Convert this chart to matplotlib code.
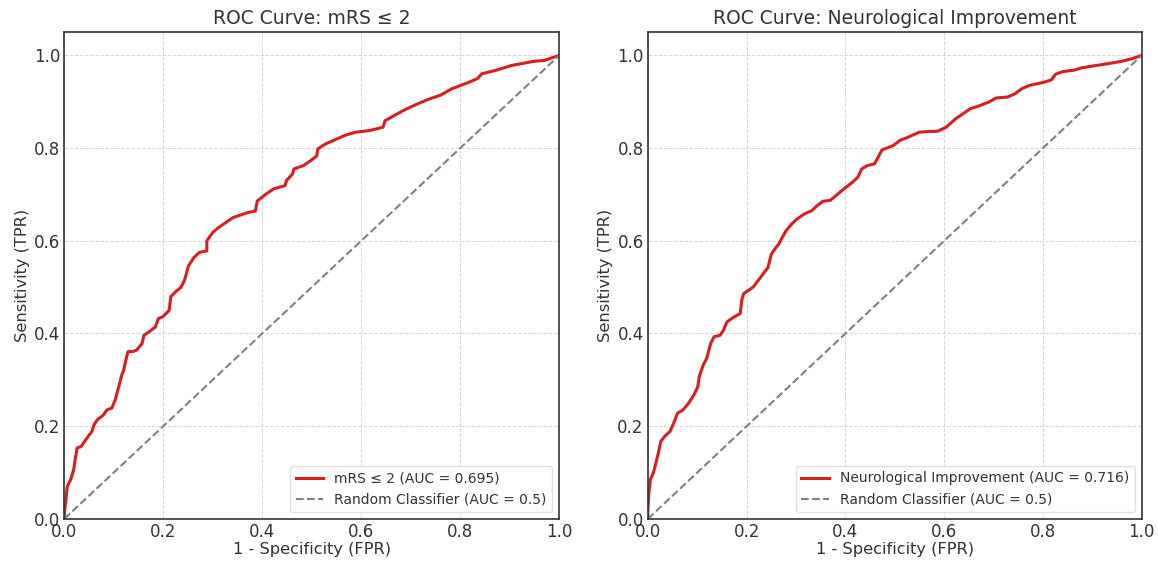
import matplotlib.pyplot as plt

# ROC points (FPR, TPR)
mrs_fpr = [0.0, 0.001, 0.004, 0.006, 0.013, 0.019, 0.022, 0.026, 0.034, 0.041, 0.049, 0.056,
           0.060, 0.067, 0.079, 0.086, 0.096, 0.103, 0.110, 0.116, 0.120, 0.126, 0.129, 0.139,
           0.146, 0.157, 0.161, 0.172, 0.184, 0.190, 0.199, 0.212, 0.215, 0.225, 0.236, 0.243,
           0.251, 0.262, 0.273, 0.288, 0.288, 0.300, 0.311, 0.326, 0.341, 0.371, 0.386, 0.390,
           0.408, 0.423, 0.446, 0.449, 0.461, 0.464, 0.483, 0.498, 0.510, 0.512, 0.528, 0.543,
           0.566, 0.588, 0.618, 0.644, 0.648, 0.663, 0.685, 0.715, 0.738, 0.760, 0.783, 0.813,
           0.835, 0.843, 0.873, 0.903, 0.948, 0.970, 1.0]
mrs_tpr = [0.0, 0.020, 0.049, 0.070, 0.085, 0.106, 0.128, 0.153, 0.156, 0.167, 0.179, 0.189,
           0.203, 0.214, 0.224, 0.235, 0.239, 0.257, 0.285, 0.310, 0.321, 0.350, 0.361, 0.361,
           0.364, 0.378, 0.396, 0.404, 0.414, 0.432, 0.436, 0.450, 0.479, 0.490, 0.500, 0.515,
           0.546, 0.564, 0.575, 0.578, 0.600, 0.618, 0.628, 0.639, 0.650, 0.661, 0.664, 0.686,
           0.701, 0.712, 0.719, 0.730, 0.744, 0.755, 0.762, 0.773, 0.783, 0.798, 0.809, 0.816,
           0.827, 0.834, 0.838, 0.845, 0.859, 0.868, 0.881, 0.896, 0.906, 0.914, 0.928, 0.940,
           0.950, 0.960, 0.968, 0.978, 0.987, 0.989, 1.0]

neuro_fpr = [0.0, 0.0, 0.002, 0.005, 0.011, 0.017, 0.022, 0.026, 0.034, 0.045, 0.052, 0.060,
             0.071, 0.082, 0.093, 0.101, 0.104, 0.112, 0.119, 0.127, 0.134, 0.146, 0.153, 0.160,
             0.175, 0.187, 0.190, 0.194, 0.213, 0.228, 0.243, 0.250, 0.257, 0.265, 0.272, 0.280,
             0.291, 0.302, 0.317, 0.332, 0.343, 0.354, 0.369, 0.377, 0.388, 0.403, 0.414, 0.425,
             0.433, 0.444, 0.459, 0.466, 0.474, 0.496, 0.511, 0.526, 0.549, 0.571, 0.586, 0.604,
             0.623, 0.638, 0.653, 0.668, 0.690, 0.705, 0.728, 0.743, 0.757, 0.772, 0.802, 0.817,
             0.825, 0.840, 0.863, 0.878, 0.907, 0.937, 0.959, 0.981, 1.0]
neuro_tpr = [0.0, 0.020, 0.056, 0.085, 0.099, 0.124, 0.146, 0.167, 0.178, 0.189, 0.206, 0.228,
             0.235, 0.249, 0.267, 0.285, 0.307, 0.332, 0.346, 0.378, 0.393, 0.396, 0.407, 0.425,
             0.436, 0.443, 0.472, 0.486, 0.500, 0.521, 0.542, 0.571, 0.582, 0.593, 0.607, 0.622,
             0.636, 0.647, 0.658, 0.665, 0.676, 0.685, 0.687, 0.694, 0.704, 0.717, 0.726, 0.737,
             0.755, 0.762, 0.766, 0.780, 0.796, 0.805, 0.817, 0.823, 0.834, 0.836, 0.836, 0.845,
             0.863, 0.874, 0.885, 0.890, 0.899, 0.908, 0.910, 0.917, 0.928, 0.935, 0.942, 0.947,
             0.959, 0.965, 0.968, 0.973, 0.978, 0.983, 0.987, 0.993, 1.0]

titles = ["ROC Curve: mRS \u2264 2", "ROC Curve: Neurological Improvement"]
labels = ["mRS \u2264 2 (AUC = 0.695)", "Neurological Improvement (AUC = 0.716)"]
ticks = [0.0, 0.2, 0.4, 0.6, 0.8, 1.0]

plt.rcParams["font.family"] = ["DejaVu Sans"]

fig = plt.figure(figsize=(11.58, 5.64), dpi=100)
ax1 = fig.add_axes([0.0555, 0.080, 0.4275, 0.863])
ax2 = fig.add_axes([0.5595, 0.080, 0.4265, 0.863])

curves = [(mrs_fpr, mrs_tpr), (neuro_fpr, neuro_tpr)]
for ax, (fpr, tpr), title, label in zip([ax1, ax2], curves, titles, labels):
    ax.plot(fpr, tpr, color="#d81e1e", lw=2.2, label=label)
    ax.plot([0, 1], [0, 1], color="gray", lw=1.5, ls="--", label="Random Classifier (AUC = 0.5)")
    ax.set_xlim(0, 1.0)
    ax.set_ylim(0, 1.05)
    ax.set_xticks(ticks)
    ax.set_yticks(ticks)
    ax.grid(True, ls="--", lw=0.7, color="#cccccc", alpha=0.8)
    ax.tick_params(direction="in", length=0, pad=3, labelsize=12, colors="#333333")
    for sp in ax.spines.values():
        sp.set_color("#333333")
        sp.set_linewidth(1.2)
    ax.set_xlabel("1 - Specificity (FPR)", fontsize=11.7, color="#333333", labelpad=1)
    ax.set_ylabel("Sensitivity (TPR)", fontsize=11.7, color="#333333", labelpad=3)
    ax.set_title(title, fontsize=13.5, color="#333333", pad=6)
    ax.legend(loc="lower right", fontsize=10, framealpha=0.9, edgecolor="#dddddd",
              labelcolor="#333333")

fig.savefig("out.png", dpi=100)
